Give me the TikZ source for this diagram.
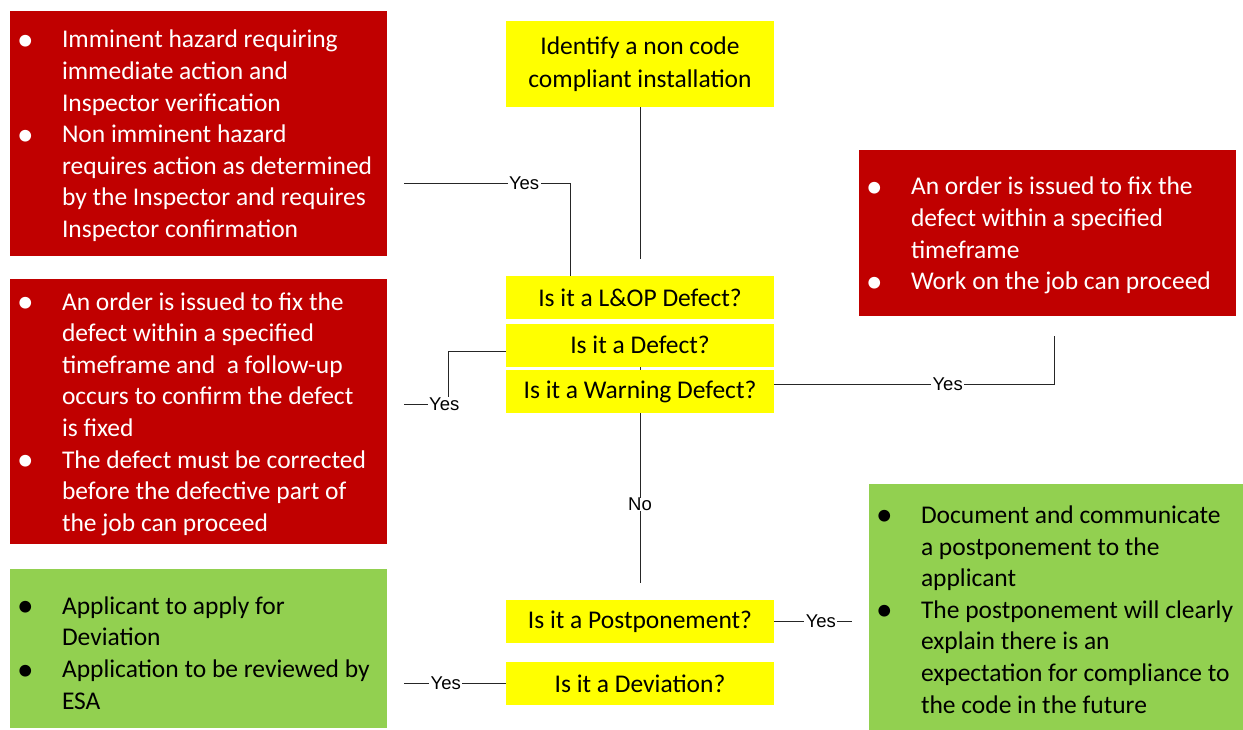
\documentclass[tikz,border=0pt]{standalone}
\usepackage{fontspec}
\setmainfont{Carlito}
\newfontfamily\yesfont{Liberation Sans}
\usetikzlibrary{backgrounds}

\definecolor{hazardred}{HTML}{C00000}
\definecolor{okgreen}{HTML}{92D050}
\definecolor{askyellow}{HTML}{FFFF00}

\newcommand{\bdot}{\hspace*{-5pt}\raisebox{-2.5pt}{\scalebox{1.3}{\textbullet}}}
\newcommand{\blist}[2][28pt]{\spaceskip=0pt\xspaceskip=0pt%
    \begin{tabular}{@{}p{40pt}@{}l@{}}\rule{0pt}{#1}\ignorespaces#2\end{tabular}}

\tikzset{
  boxfont/.style={font=\fontsize{25.5}{31.6}\selectfont},
  outcome/.style={boxfont, minimum width=377, text width=353, inner xsep=12, inner ysep=0, align=left},
  redbox/.style={outcome, fill=hazardred, text=white},
  greenbox/.style={outcome, fill=okgreen, text=black},
  askbox/.style={boxfont, fill=askyellow, minimum width=268, minimum height=43, inner sep=0, align=center},
  link/.style={draw=black!85, line width=0.9},
  yes/.style={fill=white, inner xsep=1.5, inner ysep=0.5, text=black, font=\yesfont\fontsize{18.5}{20}\selectfont}
}

\begin{document}
\begin{tikzpicture}[x=1pt,y=-1pt]
    \useasboundingbox (0,0) rectangle (1243,730);
    % questions down the middle
    \node[askbox, minimum height=86, font=\fontsize{25.5}{33}\selectfont] (idf) at (640,64) {Identify a non code\\compliant installation};
    \node[askbox] (lop) at (640,297.5) {Is it a L\&OP Defect?};
    \node[askbox] (dft) at (640,345) {Is it a Defect?};
    \node[askbox] (wrn) at (640,391.5) {Is it a Warning Defect?};
    \node[askbox] (pst) at (640,621.5) {Is it a Postponement?};
    \node[askbox] (dev) at (640,683.5) {Is it a Deviation?};
    % what happens next
    \node[redbox, minimum height=245] (hzd) at (198.5,133.5) {\blist{
        \bdot & Imminent hazard requiring\\
         & immediate action and\\
         & Inspector verification\\
        \bdot & Non imminent hazard\\
         & requires action as determined\\
         & by the Inspector and requires\\
         & Inspector confirmation}};
    \node[redbox, minimum height=265] (ord) at (198.5,411.5) {\blist{
        \bdot & An order is issued to fix the\\
         & defect within a specified\\
         & timeframe and\ \ a follow-up\\
         & occurs to confirm the defect\\
         & is fixed\\
        \bdot & The defect must be corrected\\
         & before the defective part of\\
         & the job can proceed}};
    \node[greenbox, minimum height=159] (app) at (198.5,648.5) {\blist[36pt]{
        \bdot & Applicant to apply for\\
         & Deviation\\
        \bdot & Application to be reviewed by\\
         & ESA}};
    \node[redbox, minimum height=166] (fix) at (1047.5,233) {\blist{
        \bdot & An order is issued to fix the\\
         & defect within a specified\\
         & timeframe\\
        \bdot & Work on the job can proceed}};
    \node[greenbox, minimum width=374, text width=350, minimum height=246] (doc) at (1056,607) {\blist[32pt]{
        \bdot & Document and communicate\\
         & a postponement to the\\
         & applicant\\
        \bdot & The postponement will clearly\\
         & explain there is an\\
         & expectation for compliance to\\
         & the code in the future}};
    % loose ends of the connectors
    \coordinate (idfend) at (640,259);
    \coordinate (hzdend) at (404,183);
    \coordinate (lopin) at ([xshift=65]lop.north west);
    \coordinate (ordend) at (404,404);
    \coordinate (fixend) at (1054,336);
    \coordinate (noend) at (640,583);
    \coordinate (docend) at (852,621.5);
    \coordinate (append) at (404,683.5);
    \draw[link] (idf) -- (idfend);
    \draw[link] (hzdend) -- node[yes,pos=0.72]{Yes} (hzdend -| lopin) -- (lopin);
    \draw[link] ([yshift=-6]dft.west) -- ++(-57,0) |- node[yes,pos=0.55]{Yes} (ordend);
    \draw[link] ([yshift=7]wrn.east) -| node[yes,pos=0.31]{Yes} (fixend);
    \draw[link] (pst) -- node[yes,pos=0.6]{Yes} (docend);
    \draw[link] (dev) -- node[yes,pos=0.59]{Yes} (append);
    \begin{pgfonlayer}{background}
        \draw[link] (dft.center) -- node[yes,pos=0.67]{No} (noend);
    \end{pgfonlayer}
\end{tikzpicture}
\end{document}
